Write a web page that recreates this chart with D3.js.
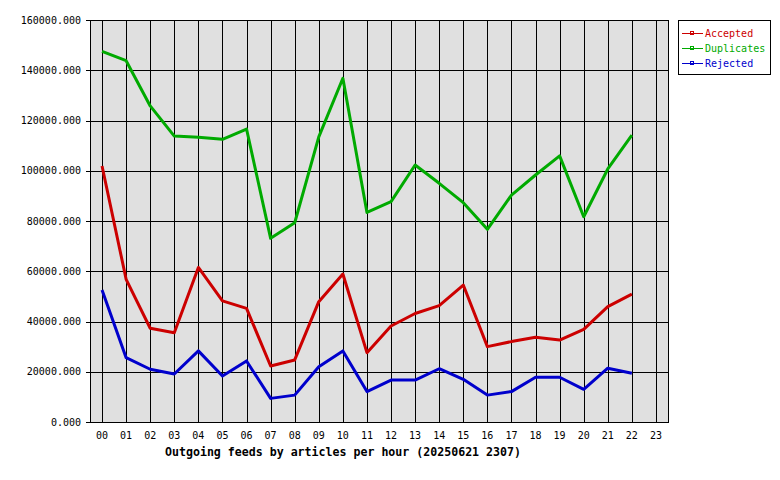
<!DOCTYPE html>
<html>
<head>
<meta charset="utf-8">
<script src="https://cdn.jsdelivr.net/npm/d3@7"></script>
<style>
  body { margin: 0; background: #fff; }
  text { font-family: "DejaVu Sans Mono", monospace; }
</style>
</head>
<body>
<svg id="chart"></svg>
<script>
// hours 00..23 (no data for 23)
const hours = d3.range(24).map(h => String(h).padStart(2, '0'));
const yTicks = [0, 20000, 40000, 60000, 80000, 100000, 120000, 140000, 160000];

const accepted = [101900, 56800, 37300, 35500, 61500, 48200, 45200, 22300, 24700, 47900, 58900, 27600,
  38200, 43200, 46300, 54500, 30000, 32000, 33700, 32600, 36900, 45900, 50900];
const duplicates = [147500, 143800, 125800, 113800, 113300, 112500, 116600, 73100, 79300, 113500, 136800, 83400,
  87700, 102300, 95000, 87300, 76700, 90300, 98300, 105900, 81700, 100700, 114200];
const rejected = [52500, 25600, 21000, 19100, 28300, 18300, 24300, 9400, 10700, 22000, 28300, 12100,
  16700, 16700, 21200, 17000, 10700, 12100, 17800, 17800, 13000, 21400, 19400];

const seriesNames = ['Accepted', 'Duplicates', 'Rejected'];
const seriesColors = ['#cc0000', '#00aa00', '#0000cc'];
const seriesData = [accepted, duplicates, rejected];

const W = 780, H = 480;
const plot = { left: 90, top: 20, right: 668, bottom: 422 };

const svg = d3.select('#chart')
  .attr('width', W)
  .attr('height', H);

const x = d3.scaleBand()
  .domain(hours)
  .range([plot.left, plot.right]);

const y = d3.scaleLinear()
  .domain([0, 160000])
  .range([plot.bottom, plot.top]);

// Plot background
svg.append('rect')
  .attr('x', plot.left)
  .attr('y', plot.top)
  .attr('width', plot.right - plot.left)
  .attr('height', plot.bottom - plot.top)
  .style('fill', '#e0e0e0');

// Vertical grid at each hour
svg.append('g')
  .selectAll('line')
  .data(hours)
  .join('line')
  .attr('x1', d => Math.round(x(d) + x.bandwidth() / 2) + 0.5)
  .attr('x2', d => Math.round(x(d) + x.bandwidth() / 2) + 0.5)
  .attr('y1', plot.top)
  .attr('y2', plot.bottom)
  .style('stroke', '#000')
  .style('shape-rendering', 'crispEdges');

// Horizontal grid + tick marks
svg.append('g')
  .selectAll('line')
  .data(yTicks)
  .join('line')
  .attr('x1', plot.left - 4)
  .attr('x2', plot.right)
  .attr('y1', d => Math.round(y(d)) + 0.5)
  .attr('y2', d => Math.round(y(d)) + 0.5)
  .style('stroke', '#000')
  .style('shape-rendering', 'crispEdges');

// Border
svg.append('rect')
  .attr('x', plot.left + 0.5)
  .attr('y', plot.top + 0.5)
  .attr('width', plot.right - plot.left)
  .attr('height', plot.bottom - plot.top)
  .style('fill', 'none')
  .style('stroke', '#000')
  .style('shape-rendering', 'crispEdges');

// Y labels
svg.append('g')
  .selectAll('text')
  .data(yTicks)
  .join('text')
  .attr('x', 81)
  .attr('y', d => y(d))
  .attr('dy', '0.35em')
  .attr('text-anchor', 'end')
  .style('font-size', '10px')
  .text(d => d3.format('.3f')(d));

// X labels
svg.append('g')
  .selectAll('text')
  .data(hours)
  .join('text')
  .attr('x', d => x(d) + x.bandwidth() / 2)
  .attr('y', 435)
  .attr('dy', '0.35em')
  .attr('text-anchor', 'middle')
  .style('font-size', '10px')
  .text(d => d);

// Title
svg.append('text')
  .attr('x', 165)
  .attr('y', 452)
  .attr('dy', '0.35em')
  .style('font-size', '11.6px')
  .style('font-weight', 'bold')
  .text('Outgoing feeds by articles per hour (20250621 2307)');

// Series lines
const line = d3.line()
  .x((d, i) => x(hours[i]) + x.bandwidth() / 2)
  .y(d => y(d));

svg.append('g')
  .selectAll('path')
  .data(seriesData)
  .join('path')
  .attr('d', d => line(d))
  .style('fill', 'none')
  .style('stroke', (d, i) => seriesColors[i])
  .style('stroke-width', 3)
  .style('stroke-linejoin', 'round');

// Legend
const legend = svg.append('g');
legend.append('rect')
  .attr('x', 678.5)
  .attr('y', 20.5)
  .attr('width', 92)
  .attr('height', 54)
  .style('fill', '#fff')
  .style('stroke', '#000')
  .style('shape-rendering', 'crispEdges');

const items = legend.selectAll('g.item')
  .data(seriesNames)
  .join('g')
  .attr('class', 'item')
  .attr('transform', (d, i) => `translate(0, ${33 + i * 15})`);

items.append('line')
  .attr('x1', 682)
  .attr('x2', 703)
  .attr('y1', 0.5)
  .attr('y2', 0.5)
  .style('stroke', (d, i) => seriesColors[i])
  .style('shape-rendering', 'crispEdges');

items.append('rect')
  .attr('x', 690.5)
  .attr('y', -1.5)
  .attr('width', 3)
  .attr('height', 3)
  .style('fill', 'none')
  .style('stroke', (d, i) => seriesColors[i])
  .style('shape-rendering', 'crispEdges');

items.append('text')
  .attr('x', 705)
  .attr('y', 0)
  .attr('dy', '0.35em')
  .style('font-size', '10px')
  .style('fill', (d, i) => seriesColors[i])
  .text(d => d);
</script>
</body>
</html>
